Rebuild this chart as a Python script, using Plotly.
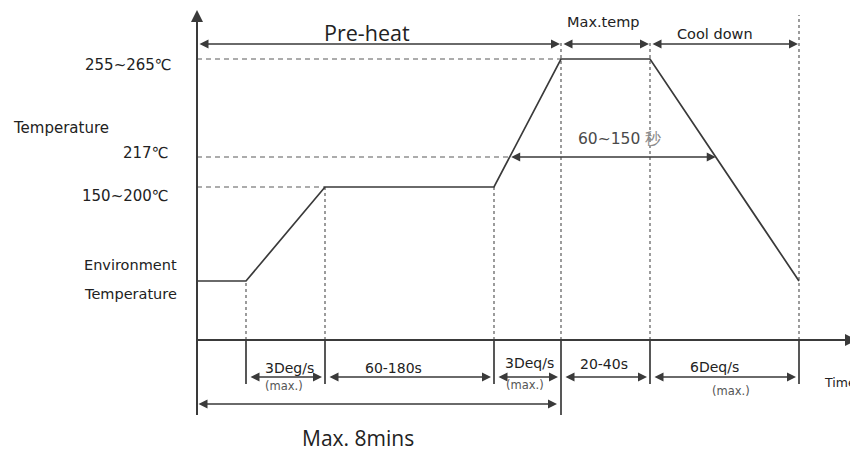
import numpy as np
import plotly.graph_objects as go

# ---- data (diagram units: time from origin, height above time axis) ----
phase_times = [0, 49, 128, 297, 364, 453, 602]
profile_levels = [59, 59, 153, 153, 281, 281, 59]

temp_labels = ["255~265℃", "217℃", "150~200℃"]
temp_levels = [281, 183, 153]

top_phase_labels = ["Pre-heat", "Max.temp", "Cool down"]
top_phase_bounds = [0, 364, 453, 602]

seg_labels = ["3Deg/s", "60-180s", "3Deq/s", "20-40s", "6Deq/s"]
seg_sublabels = ["(max.)", "", "(max.)", "", "(max.)"]
seg_bounds = [49, 128, 297, 364, 453, 602]

liquidus_label = "60~150"
liquidus_unit = "秒"
total_label = "Max. 8mins"
total_end = 364

# ---- styles ----
LINE = "#3a3a3a"
DASH = "#5a5a5a"
TXT = "#222222"
SUB = "#555555"
FONT = "DejaVu Sans"

fig = go.Figure()

def line(xs, ys, color=LINE, width=1.7, dash=None):
    fig.add_trace(go.Scatter(x=xs, y=ys, mode="lines", hoverinfo="skip",
                             line=dict(color=color, width=width, dash=dash),
                             showlegend=False))

def arrow(x0, x1, y, stand=0):
    fig.add_annotation(x=x1, y=y, ax=x0, ay=y, xref="x", yref="y",
                       axref="x", ayref="y", text="", showarrow=True,
                       arrowhead=2, arrowsize=1.2, arrowwidth=1.5,
                       arrowcolor=LINE, standoff=stand, startstandoff=stand,
                       startarrowhead=2, startarrowsize=1.2,
                       arrowside="end+start")

def text(x, y, s, size=12, anchor="center", color=TXT, family=FONT):
    fig.add_annotation(x=x, y=y, xref="x", yref="y", text=s, showarrow=False,
                       xanchor=anchor, yanchor="middle",
                       font=dict(size=size, color=color, family=family))

t = np.array(phase_times, dtype=float)
lv = np.array(profile_levels, dtype=float)
peak, liq, soak = temp_levels[0], temp_levels[1], temp_levels[2]

# liquidus crossings on ramps
t_up = np.interp(liq, lv[3:5], t[3:5])
t_dn = np.interp(liq, lv[5:7][::-1], t[5:7][::-1])

# horizontal dashed guides
line([0, t[4]], [peak, peak], DASH, 1.2, "5px,4px")
line([0, t_up], [liq, liq], DASH, 1.2, "5px,4px")
line([0, t[2]], [soak, soak], DASH, 1.2, "5px,4px")

# vertical dashed guides
VD = "3px,3px"
line([t[1], t[1]], [0, lv[1]], DASH, 1.2, VD)
line([t[2], t[2]], [0, lv[2]], DASH, 1.2, VD)
line([t[3], t[3]], [0, lv[3]], DASH, 1.2, VD)
line([t[4], t[4]], [0, 300], DASH, 1.2, VD)
line([t[5], t[5]], [0, 300], DASH, 1.2, VD)
line([t[6], t[6]], [0, 325], DASH, 1.2, VD)

# profile
line(list(t), list(lv), LINE, 1.7)

# axes
line([0, 0], [-75, 322], LINE, 2)
fig.add_annotation(x=0, y=330, ax=0, ay=300, xref="x", yref="y", axref="x", ayref="y",
                   text="", showarrow=True, arrowhead=2, arrowsize=1.2, arrowwidth=2,
                   arrowcolor=LINE, standoff=0)
line([0, 652], [0, 0], LINE, 2)
fig.add_annotation(x=660, y=0, ax=620, ay=0, xref="x", yref="y", axref="x", ayref="y",
                   text="", showarrow=True, arrowhead=2, arrowsize=1.2, arrowwidth=2,
                   arrowcolor=LINE, standoff=0)

# bottom tick lines
for b in seg_bounds:
    low = -75 if b == total_end else -44
    line([b, b], [0, low], LINE, 1.7)

# top phase arrows
for i in range(len(top_phase_labels)):
    arrow(top_phase_bounds[i], top_phase_bounds[i + 1], 296, 1)
text((top_phase_bounds[0] + top_phase_bounds[1]) / 2 - 12, 308, top_phase_labels[0], 21.5, family="Open Sans")
text((top_phase_bounds[1] + top_phase_bounds[2]) / 2 - 2, 318, top_phase_labels[1], 14.5)
text((top_phase_bounds[2] + top_phase_bounds[3]) / 2 - 10, 306, top_phase_labels[2], 14.5)

# liquidus arrow
arrow(t_up, t_dn, liq)
text((t_up + t_dn) / 2 + 7, 201,
     f"{liquidus_label} <span style='color:#8a8a8a'>{liquidus_unit}</span>", 15.5, color="#4a4a4a")

# bottom segment arrows
lab_off = [(4, 9), (-16, 9), (2, 14), (-2, 13), (-10, 10)]
sub_off = [(-1.5, -9), None, (-2.5, -8), None, (6, -14)]
for i, lab in enumerate(seg_labels):
    a, b = seg_bounds[i], seg_bounds[i + 1]
    arrow(a, b, -37, 3)
    mid = (a + b) / 2
    text(mid + lab_off[i][0], -37 + lab_off[i][1], lab, 14)
    if seg_sublabels[i]:
        text(mid + sub_off[i][0], -37 + sub_off[i][1], seg_sublabels[i], 11.5, color=SUB)

# total time arrow
fig.add_annotation(x=total_end, y=-64, ax=0, ay=-64, xref="x", yref="y",
                   axref="x", ayref="y", text="", showarrow=True,
                   arrowhead=2, arrowsize=1.2, arrowwidth=1.5, arrowcolor=LINE,
                   standoff=4, startstandoff=0, startarrowhead=2, startarrowsize=1.2,
                   arrowside="end+start")
text(total_end / 2 - 21, -98, total_label, 21, family="Open Sans")

# y labels
text(-23, 275, temp_labels[0], 15, anchor="right")
text(-27, 187, temp_labels[1], 15, anchor="right")
text(-26, 144, temp_labels[2], 15, anchor="right")
text(-186, 212, "Temperature", 15, anchor="left")
text(-115, 75, "Environment", 14.5, anchor="left")
text(-115, 46, "Temperature", 14.5, anchor="left")
text(625, -42, "Time", 12.5, anchor="left")

# body has an 8px margin; size the figure to fill the rest of the window
fig.update_layout(
    width=850, height=444, margin=dict(l=0, r=0, t=0, b=0),
    paper_bgcolor="white", plot_bgcolor="white",
    xaxis=dict(range=[-189, 661], visible=False, fixedrange=True),
    yaxis=dict(range=[-112, 332], visible=False, fixedrange=True),
)
fig.write_html("out.html")
